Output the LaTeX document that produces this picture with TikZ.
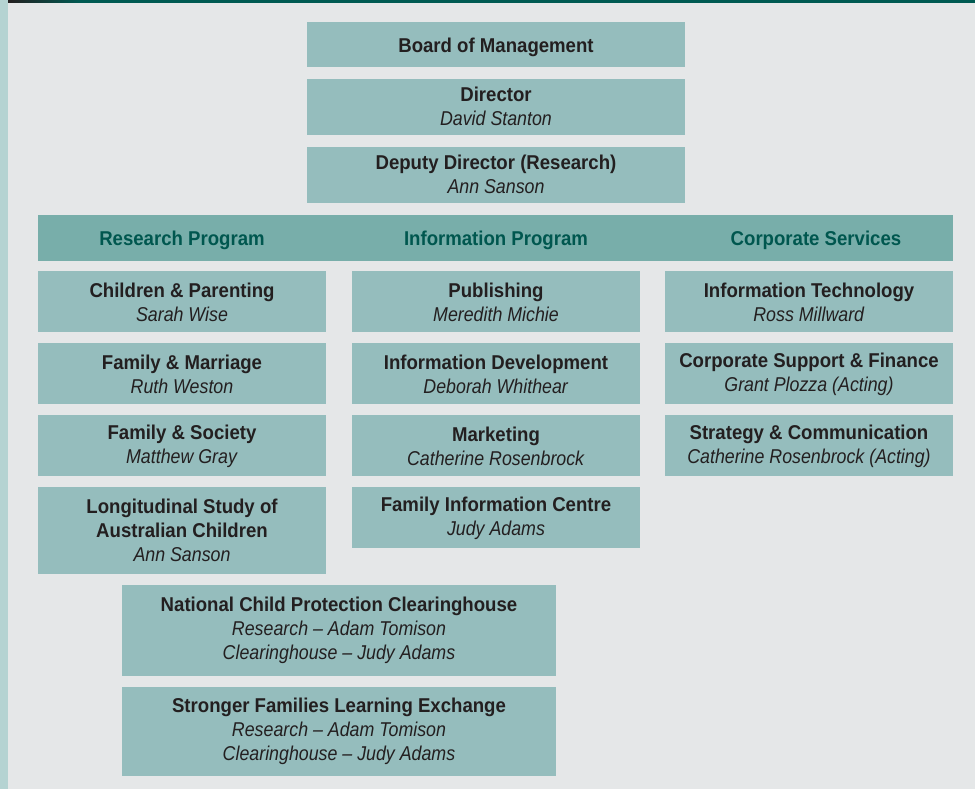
\documentclass[tikz,border=0pt]{standalone}
\usepackage{fontspec}
\setmainfont{Liberation Sans}[
  BoldFeatures={FakeStretch=0.93},
  ItalicFeatures={FakeStretch=0.89},
  UprightFeatures={FakeStretch=0.9}]
\definecolor{bg}{HTML}{E5E7E8}
\definecolor{strip}{HTML}{B5D3D2}
\definecolor{topbar}{HTML}{005A52}
\definecolor{boxc}{HTML}{95BDBD}
\definecolor{headc}{HTML}{78AEAA}
\definecolor{headt}{HTML}{00574F}
\definecolor{txt}{HTML}{231F20}
\begin{document}
\begin{tikzpicture}[x=1pt,y=-1pt,
  unit/.style={fill=boxc,draw=none,text=txt,align=center,font=\fontsize{20}{24}\selectfont,inner sep=0pt},
  head/.style={text=headt,font=\fontsize{20}{24}\selectfont\bfseries,inner sep=0pt}]
\useasboundingbox (0,0) rectangle (975,789);
\fill[bg] (0,0) rectangle (975,789);
\fill[strip] (0,0) rectangle (8,789);
\fill[topbar] (8,0) rectangle (975,3);
\shade[left color=txt,right color=topbar] (8,0) rectangle (80,3);
\newcommand{\ubox}[7][1]{\fill[boxc] (#3,#4) rectangle (#5,#6);
  \node[unit] (#2) at ({(#3+#5)/2},{(#4+#6)/2+#1}) {#7};}
\ubox[3]{board}{307}{22}{685}{67}{\textbf{Board of Management}}
\ubox[-1]{dir}{307}{79}{685}{135}{\textbf{Director}\\\textit{David Stanton}}
\ubox[-1]{dep}{307}{147}{685}{203}{\textbf{Deputy Director (Research)}\\\textit{Ann Sanson}}
\fill[headc] (38,215) rectangle (953,261);
\node[head] (rp) at (182,240) {Research Program};
\node[head] (ip) at (496,240) {Information Program};
\node[head] (cs) at (816,240) {Corporate Services};
% column 1
\ubox{cp}{38}{271}{326}{332}{\textbf{Children \& Parenting}\\\textit{Sarah Wise}}
\ubox{fm}{38}{343}{326}{404}{\textbf{Family \& Marriage}\\\textit{Ruth Weston}}
\ubox{fs}{38}{415}{326}{476}{\textbf{Family \& Society}\\\textit{Matthew Gray}}
\ubox[0]{lsac}{38}{487}{326}{574}{\textbf{Longitudinal Study of}\\\textbf{Australian Children}\\\textit{Ann Sanson}}
% column 2
\ubox{pub}{352}{271}{640}{332}{\textbf{Publishing}\\\textit{Meredith Michie}}
\ubox{idev}{352}{343}{640}{404}{\textbf{Information Development}\\\textit{Deborah Whithear}}
\ubox{mkt}{352}{415}{640}{476}{\textbf{Marketing}\\\textit{Catherine Rosenbrock}}
\ubox{fic}{352}{487}{640}{548}{\textbf{Family Information Centre}\\\textit{Judy Adams}}
% column 3
\ubox{it}{665}{271}{953}{332}{\textbf{Information Technology}\\\textit{Ross Millward}}
\ubox{csf}{665}{343}{953}{404}{\textbf{Corporate Support \& Finance}\\\textit{Grant Plozza (Acting)}}
\ubox{sc}{665}{415}{953}{476}{\textbf{Strategy \& Communication}\\\textit{Catherine Rosenbrock (Acting)}}
% bottom
\ubox[0]{ncpc}{122}{585}{556}{676}{\textbf{National Child Protection Clearinghouse}\\\textit{Research -- Adam Tomison}\\\textit{Clearinghouse -- Judy Adams}}
\ubox[0]{sfle}{122}{687}{556}{776}{\textbf{Stronger Families Learning Exchange}\\\textit{Research -- Adam Tomison}\\\textit{Clearinghouse -- Judy Adams}}
\end{tikzpicture}
\end{document}
